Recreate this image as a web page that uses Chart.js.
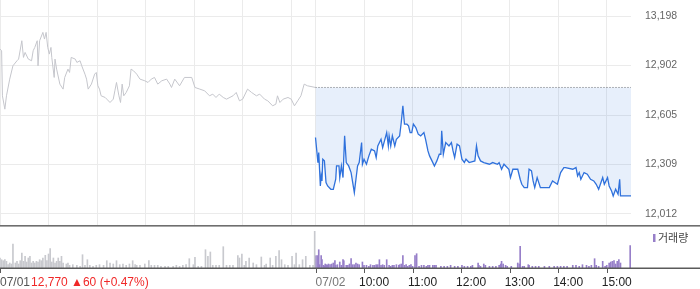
<!DOCTYPE html>
<html>
<head>
<meta charset="utf-8">
<script src="https://cdn.jsdelivr.net/npm/chart.js@4"></script>
<style>
html, body { margin: 0; padding: 0; background: #fff; }
#wrap { position: relative; width: 700px; height: 289px; }
#price-chart { position: absolute; left: 0; top: 0; }
#volume-chart { position: absolute; left: 0; top: 225px; }
</style>
</head>
<body>
<div id="wrap">
  <canvas id="price-chart" width="700" height="225" style="width:700px;height:225px"></canvas>
  <canvas id="volume-chart" width="700" height="64" style="width:700px;height:64px"></canvas>
</div>
<script>
// minutes after 09:00, one trading day = 09:00 - 15:30
var dayLength = 390;

// 07/01 price (gray)
var day1Minutes = [
    0, 2, 3, 6, 8, 12, 16, 21, 23, 27,
    29, 31, 35, 39, 41, 43, 46, 47, 49, 53,
    55, 57, 59, 61, 63, 64, 67, 68, 70, 74,
    78, 80, 84, 86, 88, 93, 95, 99, 101, 105,
    107, 109, 113, 117, 119, 121, 123, 125, 130, 132,
    136, 140, 142, 144, 147, 149, 151, 153, 156, 160,
    162, 165, 169, 173, 179, 183, 187, 191, 195, 200,
    206, 210, 212, 216, 222, 228, 237, 241, 247, 253,
    259, 263, 267, 271, 276, 280, 288, 292, 296, 300,
    306, 311, 317, 321, 327, 331, 337, 341, 343, 346,
    350, 356, 360, 364, 368, 372, 376, 380, 390
];
var day1Prices = [
    13000, 12990, 12720, 12640, 12720, 12820, 12900, 12930, 12940, 13050,
    12950, 12980, 12940, 12930, 12990, 13010, 13050, 12900, 13050, 13100,
    13060, 13100, 13010, 12970, 13010, 12950, 12830, 12940, 12880, 12790,
    12760, 12830, 12880, 12860, 12950, 12940, 12920, 12930, 12900, 12850,
    12820, 12760, 12790, 12850, 12860, 12780, 12760, 12720, 12710, 12700,
    12680, 12700, 12750, 12800, 12720, 12680, 12790, 12720, 12740, 12780,
    12880, 12870, 12850, 12820, 12810, 12800, 12820, 12830, 12790, 12810,
    12820, 12790, 12770, 12820, 12780, 12830, 12830, 12770, 12760, 12750,
    12720, 12730, 12710, 12730, 12710, 12700, 12720, 12740, 12690, 12700,
    12760, 12740, 12720, 12730, 12700, 12690, 12660, 12670, 12720, 12680,
    12700, 12710, 12700, 12660, 12690, 12720, 12790, 12780, 12770
];

// 07/02 price (blue)
var day2Minutes = [
    0, 3, 4, 6, 7, 8, 9, 11, 13, 15,
    19, 22, 25, 26, 29, 30, 32, 34, 36, 38,
    41, 44, 46, 48, 50, 52, 54, 57, 58, 60,
    63, 66, 69, 73, 75, 77, 81, 83, 88, 90,
    91, 93, 95, 98, 100, 104, 106, 108, 110, 113,
    115, 117, 119, 121, 124, 127, 130, 134, 136, 139,
    141, 144, 147, 150, 153, 155, 156, 158, 161, 165,
    168, 170, 172, 175, 178, 181, 184, 186, 190, 197,
    199, 201, 204, 208, 215, 219, 225, 227, 230, 233,
    239, 241, 244, 250, 253, 255, 258, 262, 264, 267,
    269, 271, 274, 276, 278, 289, 293, 299, 303, 307,
    309, 318, 322, 324, 326, 328, 332, 336, 340, 344,
    347, 350, 355, 357, 361, 363, 366, 368, 371, 374,
    376, 377, 390
];
var day2Prices = [
    12470, 12320, 12380, 12180, 12240, 12210, 12340, 12330, 12200, 12180,
    12160, 12160, 12220, 12300, 12300, 12230, 12300, 12230, 12480, 12320,
    12300, 12260, 12200, 12140, 12220, 12300, 12320, 12440, 12310, 12340,
    12310, 12360, 12400, 12390, 12350, 12420, 12460, 12410, 12500, 12420,
    12480, 12420, 12480, 12420, 12460, 12480, 12560, 12660, 12550, 12550,
    12540, 12500, 12500, 12550, 12530, 12490, 12480, 12500, 12460, 12390,
    12360, 12330, 12300, 12330, 12370, 12370, 12510, 12370, 12440, 12420,
    12440, 12390, 12350, 12430, 12420, 12340, 12320, 12340, 12320, 12330,
    12420, 12360, 12330, 12320, 12310, 12320, 12310, 12320, 12280, 12310,
    12280, 12230, 12280, 12280, 12220, 12190, 12170, 12170, 12280, 12270,
    12210, 12170, 12230, 12200, 12170, 12170, 12210, 12190, 12260, 12290,
    12290, 12280, 12290, 12240, 12260, 12220, 12260, 12250, 12220, 12210,
    12190, 12160, 12230, 12190, 12230, 12180, 12150, 12120, 12160, 12130,
    12220, 12120, 12120
];

// previous close reference line
var prevClose = 12770;

// volume, thousand shares
var day1VolMinutes = [
    0, 2, 4, 6, 8, 10, 12, 14, 16, 19,
    21, 23, 25, 27, 29, 31, 33, 35, 37, 39,
    41, 43, 45, 47, 49, 51, 53, 56, 58, 60,
    62, 64, 66, 68, 70, 72, 74, 76, 78, 82,
    84, 86, 90, 95, 99, 102, 105, 108, 111, 115,
    119, 123, 128, 132, 136, 140, 144, 148, 152, 156,
    160, 164, 167, 169, 173, 179, 184, 187, 191, 195,
    199, 204, 208, 214, 218, 222, 226, 230, 234, 239,
    241, 245, 249, 254, 257, 260, 263, 267, 271, 276,
    280, 284, 288, 294, 296, 299, 302, 304, 308, 313,
    317, 323, 327, 329, 334, 337, 341, 345, 348, 352,
    356, 361, 364, 366, 370, 374, 378, 383, 387, 389
];
var day1VolK = [
    10, 8.3, 7.3, 8.3, 6.7, 3.3, 5, 4, 24, 5,
    6.7, 4, 7.3, 15, 6.7, 11.7, 6, 10, 11.7, 5,
    6.7, 5, 6.7, 6, 8.3, 7.3, 10, 12.7, 7.3, 14,
    19.3, 6, 10, 5, 6.7, 10, 6.7, 11.7, 5, 4,
    5, 2.7, 3.3, 2.7, 1.7, 13.3, 2.7, 8.3, 2.7, 1.7,
    2.7, 3.3, 2.7, 7.3, 5, 4, 7.3, 3.3, 4, 2.7,
    4, 7.3, 3.3, 2.7, 2.7, 4, 7.3, 2.7, 2.7, 2.7,
    1.7, 1.7, 1.7, 1.7, 2.7, 1.7, 2.7, 3.3, 9.3, 3.3,
    10.7, 1.7, 1.7, 18.3, 11.7, 16, 2.7, 2.7, 2.7, 21.3,
    2.7, 2.7, 2.7, 12.3, 10, 14, 2.7, 6.7, 10, 5,
    3.3, 11, 2.7, 4, 10, 2.7, 11.7, 17.3, 8.3, 3.3,
    2.7, 11.7, 3.3, 15, 3.3, 8.3, 11.7, 2.7, 2.7, 36.7
];
var day2VolMinutes = [
    0, 2, 4, 5, 7, 8, 10, 11, 12, 14,
    15, 16, 18, 20, 22, 24, 25, 27, 30, 32,
    34, 35, 38, 40, 42, 44, 46, 48, 50, 52,
    54, 58, 60, 63, 66, 68, 71, 73, 75, 77,
    79, 81, 83, 85, 88, 91, 93, 95, 97, 100,
    103, 104, 106, 108, 110, 112, 114, 116, 118, 120,
    123, 125, 128, 131, 134, 137, 139, 141, 145, 147,
    149, 155, 159, 163, 167, 172, 176, 181, 184, 188,
    192, 194, 201, 202, 204, 208, 210, 215, 219, 223,
    227, 229, 230, 232, 235, 237, 242, 250, 252, 253,
    256, 258, 263, 264, 268, 272, 276, 283, 289, 295,
    299, 303, 307, 311, 318, 322, 326, 330, 335, 338,
    341, 345, 347, 350, 355, 358, 360, 363, 365, 367,
    369, 371, 373, 375, 377, 389
];
var day2VolK = [
    12.3, 12.3, 18.3, 3.3, 12.3, 8.3, 2.7, 1.7, 4, 3.3,
    2.7, 4, 3.3, 4, 5, 7.3, 2.7, 3.3, 6, 2.7,
    8.3, 7.3, 2.7, 2.7, 4, 9.3, 3.3, 3.3, 5, 4,
    3.3, 6, 2.7, 2.7, 1.7, 3.3, 2.7, 2.7, 3.3, 3.3,
    8.3, 2.7, 3.3, 2.7, 8.3, 2.7, 1.7, 2.7, 2.7, 3.3,
    2.7, 3.3, 4, 12.3, 2.7, 3.3, 1.7, 2.7, 3.3, 1.7,
    12.3, 14.3, 1.7, 2.7, 2.7, 1.7, 2.7, 2.7, 2.7, 2.7,
    2.7, 1.7, 1.7, 1.7, 2.7, 1.7, 1.7, 2.7, 1.7, 1.7,
    1.7, 2.7, 5, 2.7, 1.7, 4, 2.7, 1.7, 1.7, 1.7,
    2.7, 4, 6.7, 4, 2.7, 1.7, 1.7, 5, 4, 21.7,
    1.7, 1.7, 3.3, 2.7, 1.7, 1.7, 1.7, 1.7, 1.7, 1.7,
    1.7, 1.7, 1.7, 1.7, 2.7, 2.7, 1.7, 3.3, 2.7, 1.7,
    2.7, 9.3, 2.7, 1.7, 6.7, 1.7, 2.7, 5, 6, 6.7,
    7.3, 4, 6.7, 8.3, 5, 22.3
];

// axis ticks
var priceTicks = [12012, 12309, 12605, 12902, 13198];
var gridMinutes = [0, 60, 120, 180, 240, 300, 360, 390, 450, 510, 570, 630, 690, 750];
var hourMinutes = [450, 510, 570, 630, 690, 750];
var hourLabels = ["10:00", "11:00", "12:00", "13:00", "14:00", "15:00"];
var day1Label = "07/01";
var day2Label = "07/02";
var changeLabel = "12,770 \u25B260 (+0.47%)";

var gridColor = "#ebebeb";
var volumeColor = "#977fc9";

function toPoints(mins, vals, offset) {
    return mins.map(function (m, i) { return { x: m + offset, y: vals[i] }; });
}

function noPadding(s) {
    s.paddingTop = 0;
    s.paddingBottom = 0;
    s.paddingLeft = 0;
    s.paddingRight = 0;
}

var priceCtx = document.getElementById("price-chart").getContext("2d");
var priceChart = new Chart(priceCtx, {
    type: "line",
    data: {
        datasets: [
            {
                data: toPoints(day1Minutes, day1Prices, 0),
                borderColor: "#c5c6cc",
                borderWidth: 1,
                pointRadius: 0,
                fill: false,
            },
            {
                data: toPoints(day2Minutes, day2Prices, dayLength),
                borderColor: "#2f71dc",
                borderWidth: 1.3,
                pointRadius: 0,
                fill: { value: prevClose },
                backgroundColor: "rgba(60, 120, 220, 0.12)",
            },
            {
                data: [{ x: dayLength, y: prevClose }, { x: dayLength * 2, y: prevClose }],
                borderColor: "#666",
                borderWidth: 1,
                borderDash: [1, 2],
                pointRadius: 0,
                fill: false,
            },
        ],
    },
    options: {
        responsive: false,
        animation: false,
        layout: { padding: 0, autoPadding: false },
        plugins: { legend: { display: false }, tooltip: { enabled: false } },
        scales: {
            x: {
                type: "linear",
                min: 0,
                max: dayLength * 2,
                afterBuildTicks: function (s) {
                    s.ticks = gridMinutes.map(function (v) { return { value: v }; });
                },
                ticks: { display: false },
                grid: { color: gridColor, drawTicks: false },
                border: { display: false },
                afterFit: function (s) { s.height = 0; noPadding(s); },
            },
            y: {
                position: "right",
                min: 11946,
                max: 13294,
                afterBuildTicks: function (s) {
                    s.ticks = priceTicks.map(function (v) { return { value: v }; });
                },
                ticks: {
                    padding: 14,
                    color: "#666",
                    font: { family: "'Liberation Sans', Arial, sans-serif", size: 10.5 },
                    callback: function (v) { return v.toLocaleString("en-US"); },
                },
                grid: { color: gridColor, drawTicks: false },
                border: { display: false },
                afterFit: function (s) { s.width = 69; noPadding(s); },
            },
        },
    },
});

// borders, tick marks, time labels and legend under the volume bars
var volumeDecor = {
    id: "volumeDecor",
    afterDraw: function (chart) {
        var c = chart.ctx;
        var area = chart.chartArea;
        var xs = chart.scales.x;
        c.save();
        c.fillStyle = "#6e6e6e";
        c.fillRect(0, 0, chart.width, 1.6);
        c.fillStyle = "#5a5a5a";
        c.fillRect(0, area.bottom - 0.5, chart.width, 1.5);

        c.strokeStyle = "#5a5a5a";
        c.lineWidth = 1;
        [0, dayLength].concat(hourMinutes).forEach(function (m) {
            var px = Math.round(xs.getPixelForValue(m)) + 0.5;
            c.beginPath();
            c.moveTo(px, area.bottom);
            c.lineTo(px, area.bottom + 5);
            c.stroke();
        });

        var ly = area.bottom + 14.5;
        c.font = "12px 'Liberation Sans', Arial, sans-serif";
        c.textBaseline = "middle";
        c.textAlign = "left";
        c.fillStyle = "#555";
        c.fillText(day1Label, 0, ly);
        var w = c.measureText(day1Label).width;
        c.fillStyle = "#f02828";
        c.fillText(changeLabel, w + 1, ly);
        c.fillStyle = "#777";
        c.fillText(day2Label, xs.getPixelForValue(dayLength), ly);
        c.textAlign = "center";
        c.fillStyle = "#222";
        hourMinutes.forEach(function (m, i) {
            c.fillText(hourLabels[i], xs.getPixelForValue(m) + 10, ly);
        });

        c.fillStyle = volumeColor;
        c.fillRect(653, 9, 2.5, 8);
        c.fillStyle = "#444";
        c.textAlign = "left";
        c.font = "11px 'Noto Sans CJK KR', sans-serif";
        c.fillText("거래량", 658, 13);
        c.restore();
    },
};

var volumeCtx = document.getElementById("volume-chart").getContext("2d");
var volumeChart = new Chart(volumeCtx, {
    type: "bar",
    data: {
        datasets: [
            {
                data: toPoints(day1VolMinutes, day1VolK, 0),
                backgroundColor: "#c8c9ce",
                barThickness: 1,
                grouped: false,
            },
            {
                data: toPoints(day2VolMinutes, day2VolK, dayLength),
                backgroundColor: volumeColor,
                barThickness: 1,
                grouped: false,
            },
        ],
    },
    options: {
        responsive: false,
        animation: false,
        layout: { padding: 0, autoPadding: false },
        plugins: { legend: { display: false }, tooltip: { enabled: false } },
        scales: {
            x: {
                type: "linear",
                offset: false,
                min: 0,
                max: dayLength * 2,
                ticks: { display: false },
                grid: { display: false },
                border: { display: false },
                afterFit: function (s) { s.height = 21; noPadding(s); },
            },
            y: {
                position: "right",
                min: 0,
                max: 43,
                ticks: { display: false },
                grid: { display: false },
                border: { display: false },
                afterFit: function (s) { s.width = 69; noPadding(s); },
            },
        },
    },
    plugins: [volumeDecor],
});
</script>
</body>
</html>
